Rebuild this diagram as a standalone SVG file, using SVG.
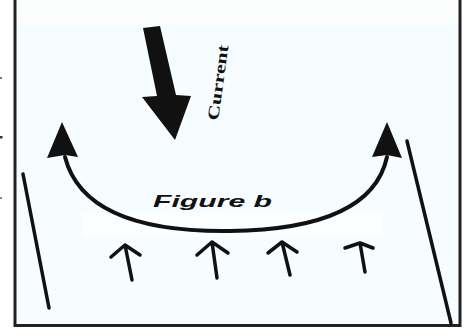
<svg xmlns="http://www.w3.org/2000/svg" width="469" height="336" viewBox="0 0 469 336">
<defs>
<style>
.line{fill:none;stroke:#111;stroke-linecap:round}
.small{fill:none;stroke:#111;stroke-width:3.5;stroke-linecap:round;stroke-linejoin:round}
.head{fill:#111}
</style>
</defs>
<rect x="0" y="0" width="469" height="336" fill="#ffffff"/>
<rect x="15" y="0" width="445" height="325" fill="#f6fcff"/>
<rect x="15" y="0" width="445" height="23" fill="#fbfcfc"/>
<rect x="83" y="213" width="300" height="24" fill="#fdfeff"/>
<g id="frame">
<path d="M15 0 V325.5 H460 V0" fill="none" stroke="#222" stroke-width="3"/>
<rect x="0" y="77" width="2" height="2" fill="#777"/>
<rect x="0" y="136" width="2.5" height="2.5" fill="#333"/>
<rect x="0" y="197" width="2" height="2" fill="#888"/>
</g>
<g id="down-arrow">
<polygon class="head" points="143,28 160,26 176,95 191,96 175,140 142,97 157,96"/>
<text x="0" y="0" transform="translate(218,121) rotate(-82)" font-family="Liberation Serif, serif" font-weight="bold" font-size="16" fill="#111" textLength="76" lengthAdjust="spacingAndGlyphs">Current</text>
</g>
<g id="connectors">
<path class="line" stroke-width="4" d="M65 157 C80 215 150 232 230 231 C310 230 375 212 387 157"/>
<polygon class="head" points="62,122 47,158 65,155 78,157"/>
<polygon class="head" points="387,122 372,157 387,155 402,158"/>
<line class="line" stroke-width="3.5" x1="23" y1="174" x2="49" y2="308"/>
<line class="line" stroke-width="3.5" x1="407" y1="141" x2="451" y2="323"/>
</g>
<g id="label">
<text x="153" y="207" font-family="Liberation Sans, sans-serif" font-weight="bold" font-style="italic" font-size="17" fill="#111" textLength="119" lengthAdjust="spacingAndGlyphs">Figure b</text>
</g>
<g id="up-arrows">
<path class="small" d="M125 245 L132 280 M111 257 L125 245 L140 255"/>
<path class="small" d="M212 242 L217 278 M197 255 L212 242 L228 253"/>
<path class="small" d="M282 242 L290 275 M268 253 L282 242 L297 252"/>
<path class="small" d="M360 243 L365 272 M345 248 L360 243 L373 248"/>
</g>
</svg>
